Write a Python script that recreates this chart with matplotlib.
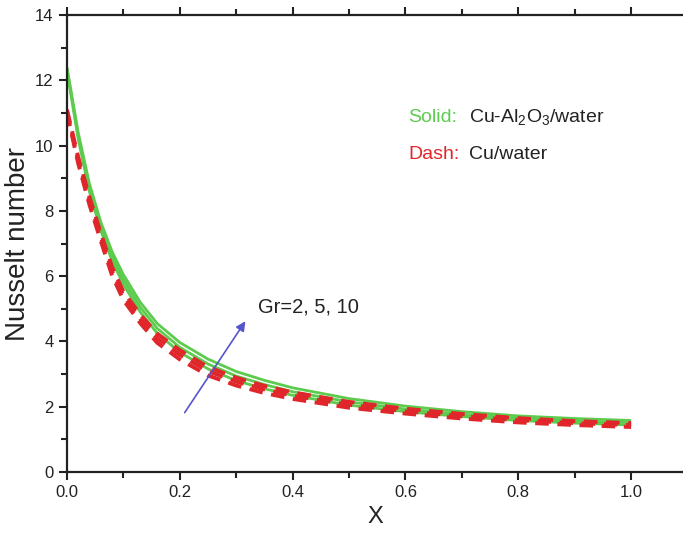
import matplotlib
matplotlib.use('Agg')
from matplotlib import pyplot as plt
from matplotlib.ticker import MultipleLocator

plt.rcParams['font.family'] = ['Liberation Sans', 'DejaVu Sans']
plt.rcParams['mathtext.fontset'] = 'custom'
plt.rcParams['mathtext.rm'] = 'Liberation Sans'
plt.rcParams['mathtext.it'] = 'Liberation Sans'

# x positions
x = [0, 0.02, 0.04, 0.06, 0.08, 0.1, 0.13, 0.16, 0.2, 0.25, 0.3, 0.35, 0.4,
     0.5, 0.6, 0.7, 0.8, 0.9, 1.0]

# Solid: Cu-Al2O3/water, Gr = 2, 5, 10
hybrid_gr2 = [12.3, 10.2, 8.58, 7.4, 6.47, 5.75, 4.9, 4.25, 3.67, 3.16, 2.8,
              2.55, 2.35, 2.05, 1.85, 1.7, 1.58, 1.5, 1.44]
hybrid_gr5 = [12.35, 10.3, 8.7, 7.53, 6.61, 5.9, 5.05, 4.4, 3.82, 3.31, 2.94,
              2.68, 2.46, 2.15, 1.93, 1.77, 1.65, 1.57, 1.51]
hybrid_gr10 = [12.4, 10.4, 8.82, 7.66, 6.75, 6.05, 5.2, 4.55, 3.97, 3.46, 3.08,
               2.81, 2.58, 2.25, 2.02, 1.85, 1.72, 1.64, 1.58]

# Dash: Cu/water, Gr = 2, 5, 10
cu_gr2 = [11.0, 9.45, 8.18, 7.08, 6.02, 5.27, 4.56, 3.96, 3.45, 2.96, 2.65,
          2.42, 2.24, 1.97, 1.79, 1.64, 1.52, 1.44, 1.38]
cu_gr5 = [11.05, 9.55, 8.3, 7.2, 6.15, 5.4, 4.69, 4.1, 3.59, 3.09, 2.77,
          2.53, 2.34, 2.06, 1.86, 1.71, 1.59, 1.5, 1.44]
cu_gr10 = [11.1, 9.65, 8.42, 7.32, 6.28, 5.53, 4.82, 4.24, 3.73, 3.22, 2.89,
           2.64, 2.44, 2.15, 1.94, 1.78, 1.65, 1.56, 1.5]

GREEN = '#5dcc4e'
RED = '#e0262a'
TXT = '#222222'

fig = plt.figure(figsize=(6.83, 5.34), dpi=100)
ax = fig.add_axes([0.098, 0.116, 0.902, 0.856])

for y in (hybrid_gr2, hybrid_gr5, hybrid_gr10):
    ax.plot(x, y, color=GREEN, lw=2.0, solid_capstyle='butt')
for y in (cu_gr2, cu_gr5, cu_gr10):
    ax.plot(x, y, color=RED, lw=2.8, ls=(0, (3.5, 2.2)), dash_capstyle='butt')

ax.set_xlim(0, 1.092)
ax.set_ylim(0, 14)
ax.xaxis.set_major_locator(MultipleLocator(0.2))
ax.xaxis.set_minor_locator(MultipleLocator(0.1))
ax.yaxis.set_major_locator(MultipleLocator(2))
ax.yaxis.set_minor_locator(MultipleLocator(1))
ax.tick_params(which='both', direction='out', width=1.5, color=TXT,
               labelsize=12, labelcolor=TXT, top=True, right=False)
ax.tick_params(which='major', length=6)
ax.tick_params(which='minor', length=4)
ax.set_xticklabels(['%.1f' % v for v in ax.get_xticks()])
for side in ('left', 'bottom', 'top'):
    ax.spines[side].set_linewidth(1.6)
    ax.spines[side].set_color(TXT)
ax.spines['right'].set_visible(False)

ax.set_xlabel('X', fontsize=17, color=TXT, labelpad=4)
ax.set_ylabel('Nusselt number', fontsize=20, color=TXT, labelpad=3)

ax.text(0.605, 10.86, 'Solid:', color=GREEN, fontsize=14, va='center')
ax.text(0.712, 10.86, 'Cu-Al$_2$O$_3$/water', color=TXT, fontsize=14, va='center')
ax.text(0.605, 9.72, 'Dash:', color=RED, fontsize=14, va='center')
ax.text(0.712, 9.72, 'Cu/water', color=TXT, fontsize=14, va='center')

ax.annotate('', xy=(0.319, 4.69), xytext=(0.206, 1.75),
            arrowprops=dict(arrowstyle='-|>', color='#5555cc', lw=1.2,
                            mutation_scale=14))
ax.text(0.339, 5.06, 'Gr=2, 5, 10', color=TXT, fontsize=14.5, va='center')

plt.savefig('out.png', dpi=100)
